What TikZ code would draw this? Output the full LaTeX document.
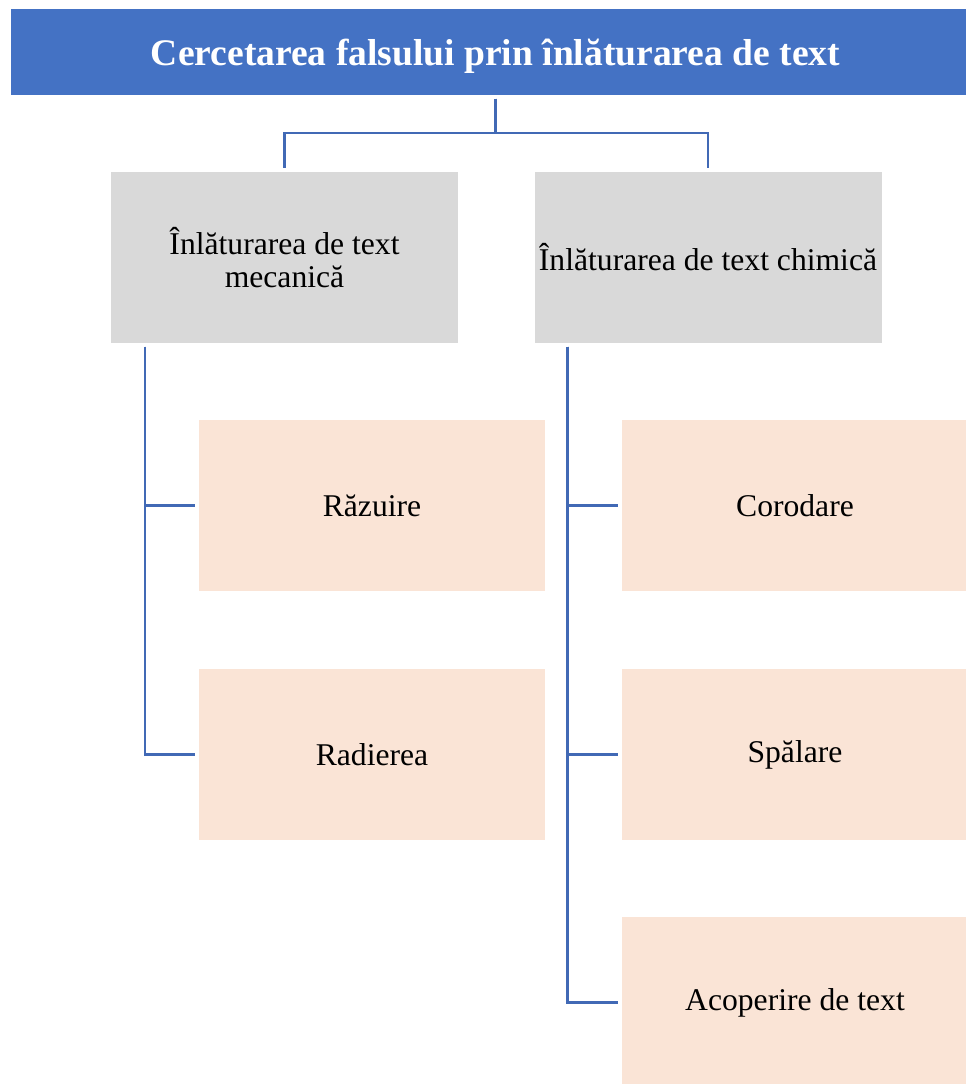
\documentclass[tikz,border=0pt]{standalone}
\usepackage{fontspec}
\setmainfont{Liberation Serif}
\usepackage{xcolor}
\usetikzlibrary{positioning, calc}
\definecolor{cHEAD}{HTML}{4472C4}
\definecolor{cLINE}{HTML}{4169B5}
\definecolor{cCAT}{HTML}{D9D9D9}
\definecolor{cLEAF}{HTML}{FAE4D6}

\begin{document}
\begin{tikzpicture}[
  head/.style={rectangle, fill=cHEAD, text=white, minimum width=24.225cm, minimum height=2.15cm, align=center, inner sep=0pt, outer sep=2.5pt, text depth=0pt, font=\fontsize{26.7}{32}\selectfont\bfseries},
  cat/.style={rectangle, fill=cCAT, minimum width=8.675cm, minimum height=4.275cm, align=center, inner sep=0pt, outer sep=2.5pt, font=\fontsize{22.5}{24}\selectfont},
  leaf/.style={rectangle, fill=cLEAF, minimum width=8.65cm, minimum height=4.275cm, align=center, inner sep=0pt, outer sep=2.5pt, font=\fontsize{22.5}{24}\selectfont},
  conn/.style={draw=cLINE, line width=1.5pt}
]
\useasboundingbox (0,0) rectangle (24.125,-27.1);

\node[head] (title) at (12.3875,-1.3) {Cercetarea falsului prin înlăturarea de text};

\node[cat] (mec)  at (7.1125,-6.4375) {Înlăturarea de text\\mecanică};
\node[cat] (chim) at (17.7,-6.4375)   {Înlăturarea de text chimică};

\node[leaf] (raz) at (9.3,-12.6375)     {Răzuire};
\node[leaf] (rad) at (9.3,-18.8625)     {Radierea};
\node[leaf] (cor) at (19.875,-12.6375)  {Corodare};
\node[leaf] (spa) at (19.875,-18.8625)  {Spălare};
\node[leaf] (aco) at (19.875,-25.0625)  {Acoperire de text};

% title -> categories
\draw[conn] (title.south) -- ++(0,-0.8625) -| (mec.north);
\draw[conn] (title.south) -- ++(0,-0.8625) -| (chim.north);

% categories -> methods
\coordinate (mspine) at ($(mec.south west)+(0.9375,0)$);
\coordinate (cspine) at ($(chim.south west)+(0.9125,0)$);
\draw[conn] (mspine) |- (raz.west);
\draw[conn] (mspine) |- (rad.west);
\draw[conn] (cspine) |- (cor.west);
\draw[conn] (cspine) |- (spa.west);
\draw[conn] (cspine) |- (aco.west);
\end{tikzpicture}
\end{document}
